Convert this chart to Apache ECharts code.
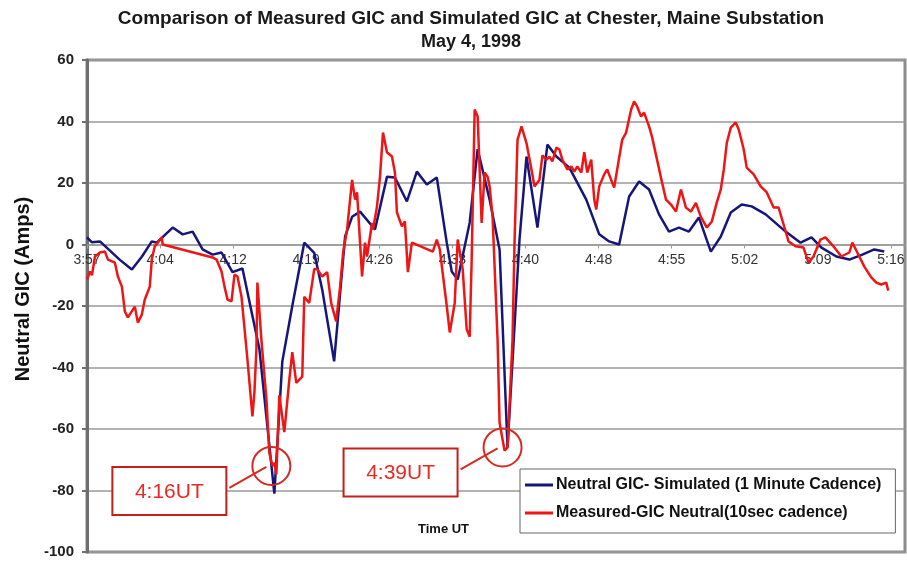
<!DOCTYPE html>
<html>
<head>
<meta charset="utf-8">
<script src="https://cdn.jsdelivr.net/npm/echarts@6/dist/echarts.min.js"></script>
<style>
  html, body { margin: 0; padding: 0; background: #fff; }
  #main { width: 907px; height: 562px; }
</style>
</head>
<body>
<div id="main"></div>
<script>
// x is minutes after 3:57 UT, y is neutral GIC in amps
var tickLabels = ['3:57', '4:04', '4:12', '4:19', '4:26', '4:33', '4:40', '4:48', '4:55', '5:02', '5:09', '5:16']

var simulated = [
  [0, 2.3], [0.5, 0.7], [1.3, 1.0], [2.3, -2], [3.3, -5], [4.5, -8.1], [5.5, -4], [6.5, 1],
  [7.0, 0.6], [8.6, 5.5], [9.6, 3.3], [10.6, 4.2], [11.6, -1.6], [12.6, -3.3], [13.5, -2.6],
  [14.6, -9], [15.6, -7.8], [17.3, -34], [18.8, -81], [19.6, -38], [20.6, -20], [21.8, 0.6],
  [22.8, -2.7], [23.6, -14.6], [24.8, -38], [25.9, 2.6], [26.6, 9], [27.4, 10.7], [28.9, 4.9],
  [30.1, 22], [30.9, 21.8], [32.1, 14], [33.1, 23.7], [34.1, 19.5], [35.1, 21.8], [36.1, 0.6],
  [36.6, -8.8], [37.2, -11.4], [38.4, 7.1], [39.2, 31], [40.4, 14.6], [41.4, -1.6], [42.2, -66],
  [43.4, 1.6], [44.1, 28.6], [45.2, 5.5], [46.2, 32.5], [47.1, 28.6], [48.4, 25], [50.1, 14.6],
  [51.4, 3.3], [52.4, 1], [53.4, 0], [54.4, 15.6], [55.4, 20.5], [56.4, 17.9], [57.4, 9.8],
  [58.4, 4.2], [59.4, 5.5], [60.4, 4.2], [61.4, 8.8], [62.6, -2.3], [63.6, 2.6], [64.6, 10.4],
  [65.7, 13], [66.7, 12.4], [68.1, 9.8], [70.1, 4.2], [71.6, 0.6], [72.7, 2.3], [73.7, -1],
  [75.2, -3.9], [76.5, -4.9], [77.8, -3.3], [79.0, -1.6], [80.0, -2.3]
]

var measured = [
  [0, -11.4], [0.3, -8.8], [0.5, -10], [0.8, -3.9], [1.3, -2.6], [1.8, -2.3], [2.1, -4.9],
  [2.8, -5.9], [3.1, -10.4], [3.5, -13.7], [3.8, -21.8], [4.1, -23.7], [4.8, -20.2], [5.1, -25.4],
  [5.5, -22.8], [5.8, -17.9], [6.3, -13.7], [6.5, -4.9], [6.8, -0.6], [7.1, 0.6], [7.5, 2.3],
  [7.6, 0], [12.6, -4.2], [13.0, -4.9], [13.5, -8.8], [13.8, -13.7], [14.1, -17.9], [14.5, -18.5],
  [14.8, -9.8], [15.1, -10.4], [15.5, -16.9], [16.1, -37.4], [16.6, -55.9], [16.8, -48], [17.0, -34],
  [17.1, -12.4], [17.3, -13], [17.5, -31], [18.0, -50], [18.3, -67.8], [18.6, -72], [18.8, -71],
  [19.0, -74.8], [19.3, -49], [19.8, -61], [20.3, -44], [20.6, -35], [21.0, -45], [21.6, -43],
  [21.8, -17], [22.3, -19], [22.5, -14.6], [22.8, -8], [23.1, -8], [23.6, -10.4], [24.1, -9],
  [24.5, -19], [25.0, -25], [25.4, -13.7], [25.7, -2.6], [26.1, 4.9], [26.4, 14.6], [26.6, 21],
  [26.9, 14.6], [27.1, 17], [27.4, 0.6], [27.6, -10.4], [27.9, 0.6], [28.1, -3.9], [28.6, 7],
  [28.7, 4.9], [29.1, 12.4], [29.4, 22], [29.7, 36.4], [30.1, 30], [30.6, 28.6], [30.9, 23.4],
  [31.1, 10.4], [31.6, 5.9], [31.9, 7.5], [32.2, -9], [32.6, 0.6], [34.7, -2.3], [35.1, 1.6],
  [35.4, -1.6], [36.1, -20], [36.4, -28.6], [36.9, -19], [37.2, 1.6], [37.7, -8], [38.1, -27.6],
  [38.4, -30], [38.6, -4.9], [38.9, 43.9], [39.2, 41.6], [39.6, 7], [39.9, 23.4], [40.2, 22],
  [40.4, 18.9], [40.7, 9], [41.2, -31], [41.4, -58], [41.9, -67], [42.2, -66], [42.7, -31],
  [42.9, 0.6], [43.2, 34], [43.6, 38.4], [44.1, 33], [44.6, 24.4], [44.9, 18.9], [45.4, 21],
  [45.7, 29], [46.1, 27.6], [46.4, 28.6], [46.7, 27], [47.1, 31.5], [47.4, 30.9], [47.7, 27.6],
  [48.2, 24.4], [48.6, 25.4], [48.9, 23.7], [49.2, 25.4], [49.6, 23.4], [49.9, 30], [50.2, 23.4],
  [50.6, 27.6], [50.9, 14.6], [51.1, 11.4], [51.4, 18.9], [51.9, 22.8], [52.2, 24.4], [52.6, 21],
  [52.9, 18.5], [53.2, 24.4], [53.7, 34], [54.1, 36.4], [54.6, 43.9], [54.9, 46.5], [55.2, 44.9],
  [55.6, 41.6], [55.9, 42.9], [56.4, 38.4], [56.7, 35], [57.2, 27.6], [57.7, 20.2], [58.1, 14.6],
  [58.6, 13], [59.1, 10.7], [59.6, 17.9], [60.1, 12], [60.6, 10.7], [61.1, 13.5], [61.6, 9],
  [62.2, 5.5], [62.7, 7.5], [63.2, 13.7], [63.6, 17.9], [63.9, 24.4], [64.2, 33], [64.6, 38],
  [65.1, 39.7], [65.4, 37.4], [65.9, 30.9], [66.2, 25], [66.9, 22.8], [67.6, 18.9], [68.2, 17],
  [68.9, 12], [69.4, 12], [69.9, 6.5], [70.4, 1], [71.1, -0.6], [71.9, -1], [72.4, -5.9],
  [72.9, -3.9], [73.6, 1.6], [74.1, 2.3], [74.9, -0.6], [75.7, -3.9], [76.5, -2.6], [76.8, 0.6],
  [77.3, -2.6], [78.0, -7.2], [78.7, -10.7], [79.2, -12.4], [79.7, -13], [80.2, -12.4], [80.4, -15]
]

// annotated minima (data coords)
var callouts = [
  { text: '4:16UT', at: [18.5, -72] },
  { text: '4:39UT', at: [41.7, -66] }
]

var yMin = -100
var yMax = 60
var tickStep = 440 // seconds between tick labels
var xMax = 4925 // plot runs a little past the 5:16 tick
var toSec = function (p) { return [p[0] * 60, p[1]] }
var font = 'Liberation Sans'

var gridTop = 60
var gridBottom = 10
var plotHeight = 562 - gridTop - gridBottom
// x axis (and its labels) sits on the zero line
var xOffset = -plotHeight * (0 - yMin) / (yMax - yMin)

var option = {
  animation: false,
  textStyle: { fontFamily: font },
  title: {
    text: 'Comparison of Measured GIC and Simulated GIC at Chester, Maine Substation',
    subtext: 'May 4, 1998',
    left: 466,
    textAlign: 'center',
    top: 4,
    itemGap: 5,
    textStyle: { fontFamily: font, fontSize: 19, fontWeight: 'bold', color: '#1a1a1a' },
    subtextStyle: { fontFamily: font, fontSize: 18, fontWeight: 'bold', color: '#1a1a1a' }
  },
  grid: {
    left: 87,
    right: 2,
    top: gridTop,
    bottom: gridBottom,
    outerBoundsMode: 'none',
    show: true,
    borderColor: '#8c8c8c',
    borderWidth: 3
  },
  legend: {
    orient: 'vertical',
    left: 520,
    top: 469,
    icon: 'rect',
    itemWidth: 28,
    itemHeight: 3,
    itemGap: 12,
    padding: [8, 14, 12, 5],
    backgroundColor: '#fff',
    borderColor: '#666',
    borderWidth: 1,
    textStyle: { fontFamily: font, fontSize: 16, fontWeight: 'bold', color: '#111', padding: [0, 0, 0, -2] },
    data: ['Neutral GIC- Simulated (1 Minute Cadence)', 'Measured-GIC Neutral(10sec cadence)']
  },
  xAxis: {
    type: 'value',
    min: 0,
    max: xMax,
    interval: tickStep,
    offset: xOffset,
    axisLine: { onZero: false, lineStyle: { color: '#9a9a9a', width: 1.5 } },
    axisTick: { show: true, length: 4, lineStyle: { color: '#9a9a9a' } },
    axisLabel: {
      margin: 9,
      fontSize: 14,
      color: '#333',
      showMaxLabel: false,
      formatter: function (v) { return v % tickStep === 0 ? tickLabels[v / tickStep] : '' }
    },
    splitLine: { show: false }
  },
  yAxis: {
    type: 'value',
    min: yMin,
    max: yMax,
    interval: 20,
    name: 'Neutral GIC (Amps)',
    nameLocation: 'middle',
    nameGap: 54,
    nameTextStyle: { fontFamily: font, fontSize: 20, fontWeight: 'bold', color: '#111', padding: [0, 0, 0, 34] },
    axisLine: { show: true, onZero: false, lineStyle: { color: '#6e6e6e', width: 3 } },
    axisTick: { show: true, length: 5, lineStyle: { color: '#6e6e6e', width: 2 } },
    axisLabel: { fontSize: 15, fontWeight: 'bold', color: '#222', margin: 13 },
    splitLine: { lineStyle: { color: '#9a9a9a', width: 1.5 } }
  },
  series: [
    {
      name: 'Neutral GIC- Simulated (1 Minute Cadence)',
      type: 'line',
      symbol: 'none',
      color: '#16167a',
      lineStyle: { width: 2.5, color: '#16167a' },
      data: simulated.map(toSec)
    },
    {
      name: 'Measured-GIC Neutral(10sec cadence)',
      type: 'line',
      symbol: 'none',
      color: '#ee1515',
      lineStyle: { width: 2.5, color: '#ee1515' },
      data: measured.map(toSec)
    }
  ]
}

var chart = echarts.init(document.getElementById('main'))
chart.setOption(option)

// callout boxes and circles, anchored on the data points
var shapes = [{
  type: 'text', left: 418, top: 523, z: 10,
  style: { text: 'Time UT', fill: '#111', font: 'bold 13px "Liberation Sans"' }
}]
callouts.forEach(function (c) {
  var p = chart.convertToPixel({ gridIndex: 0 }, toSec(c.at))
  var bx = p[0] - 159
  var by = p[1] + 1
  shapes.push({
    type: 'circle', z: 10,
    shape: { cx: p[0], cy: p[1], r: 19 },
    style: { fill: 'none', stroke: '#d42a24', lineWidth: 2 }
  })
  shapes.push({
    type: 'line', z: 10,
    shape: { x1: bx + 117, y1: by + 21, x2: p[0] - 5, y2: p[1] + 1 },
    style: { stroke: '#d42a24', lineWidth: 2 }
  })
  shapes.push({
    type: 'rect', z: 10,
    shape: { x: bx, y: by, width: 114, height: 48 },
    style: { fill: '#fff', stroke: '#c41f1a', lineWidth: 2 }
  })
  shapes.push({
    type: 'text', z: 11, x: bx + 57, y: by + 25,
    style: { text: c.text, fill: '#e82a24', font: '21px "Liberation Sans"', align: 'center', verticalAlign: 'middle' }
  })
})
chart.setOption({ graphic: shapes })
</script>
</body>
</html>
